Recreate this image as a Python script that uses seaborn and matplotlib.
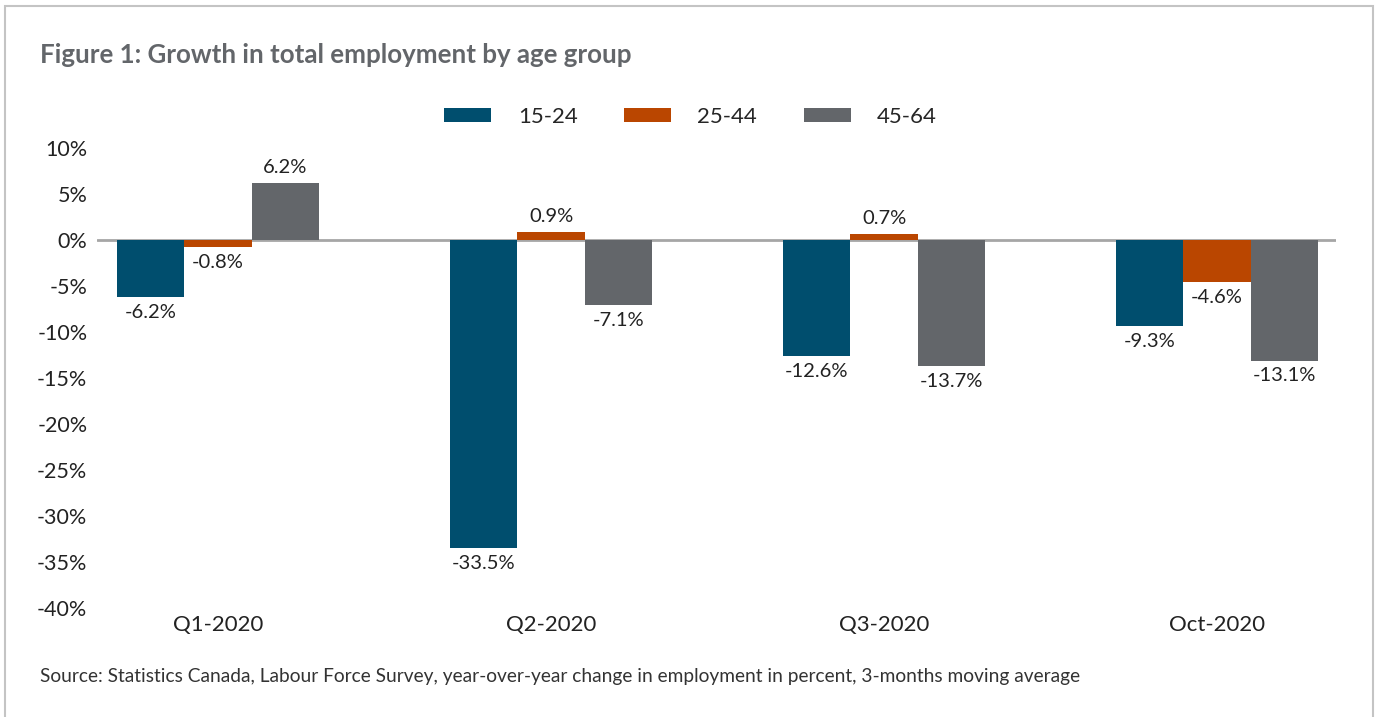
import matplotlib
matplotlib.use("Agg")
import matplotlib.pyplot as plt
from matplotlib.patches import Rectangle
from matplotlib.ticker import FuncFormatter
import seaborn as sns
import pandas as pd

periods = ["Q1-2020", "Q2-2020", "Q3-2020", "Oct-2020"]
age_groups = ["15-24", "25-44", "45-64"]
growth_15_24 = [-6.2, -33.5, -12.6, -9.3]
growth_25_44 = [-0.8, 0.9, 0.7, -4.6]
growth_45_64 = [6.2, -7.1, -13.7, -13.1]
colors = ["#004E6E", "#BA4600", "#63666A"]

df = pd.DataFrame({
    "period": periods * 3,
    "age": [g for g in age_groups for _ in periods],
    "growth": growth_15_24 + growth_25_44 + growth_45_64,
})

sns.set_style("white")
plt.rcParams["font.family"] = ["Lato", "DejaVu Sans"]

fig = plt.figure(figsize=(13.76, 7.17), dpi=100)
ax = fig.add_axes([0.0705, 0.152, 0.9005, 0.6416])

sns.barplot(data=df, x="period", y="growth", hue="age", order=periods,
            hue_order=age_groups, palette=colors, width=0.607,
            saturation=1, linewidth=0, legend=False, ax=ax)

# zero line sits behind the bars
ax.axhline(0, color="#a6a6a6", lw=2, zorder=0.5)
for cont in ax.containers:
    ax.bar_label(cont, fmt="{:.1f}%", padding=5, fontsize=14.5, color="#222222")

ax.set_xlim(-0.363, 3.357)
ax.set_ylim(-40, 10)
ax.set_yticks(range(-40, 11, 5))
ax.yaxis.set_major_formatter(FuncFormatter(lambda v, p: f"{int(v)}%"))
ax.set_xlabel("")
ax.set_ylabel("")
ax.tick_params(axis="y", labelsize=15.5, pad=7, length=0, labelcolor="#222222")
ax.tick_params(axis="x", labelsize=16, pad=5, length=0, labelcolor="#222222")
sns.despine(ax=ax, left=True, bottom=True)

fig.legend(ax.containers, age_groups, loc="center", bbox_to_anchor=(0.502, 0.837),
           ncol=3, frameon=False, fontsize=16, handlelength=2.1, handleheight=0.6,
           handletextpad=1.2, columnspacing=2.1)

fig.text(0.029, 0.923, "Figure 1: Growth in total employment by age group",
         fontsize=18.6, fontweight="bold", color="#63666A", ha="left", va="center")
fig.text(0.029, 0.056,
         "Source: Statistics Canada, Labour Force Survey, year-over-year change in employment in percent, 3-months moving average",
         fontsize=13.8, color="#333333", ha="left", va="center")

# light frame, open at the bottom edge
fig.patches.append(Rectangle((0.0036, -0.02), 0.9942, 1.0116, transform=fig.transFigure,
                             fill=False, edgecolor="#c4c4c4", lw=1.5))

fig.savefig("out.png", dpi=100)
